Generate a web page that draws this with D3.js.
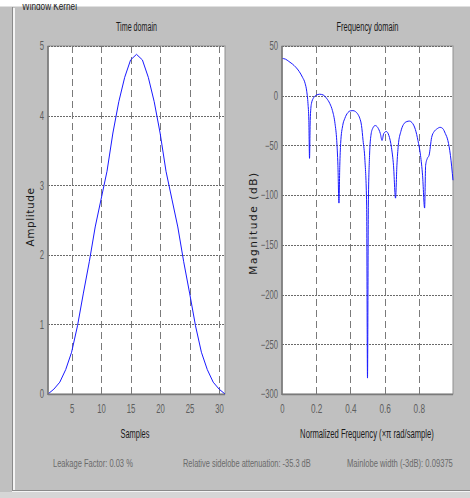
<!DOCTYPE html>
<html>
<head>
<meta charset="utf-8">
<script src="https://cdn.jsdelivr.net/npm/d3@7"></script>
<style>
  body { margin: 0; background: #fff; }
  svg text { font-family: "Liberation Sans Narrow", "Arial Narrow", "Liberation Sans", sans-serif; }
</style>
</head>
<body>
<div id="chart"></div>
<script>
// time domain: window samples 1..31
var samples = d3.range(1, 32);
var amplitude = [0.0, 0.07, 0.17, 0.35, 0.6, 0.98, 1.45, 1.9, 2.4, 2.8, 3.2, 3.75, 4.2, 4.55, 4.8, 4.88,
                 4.8, 4.55, 4.2, 3.75, 3.2, 2.8, 2.4, 1.9, 1.45, 0.98, 0.6, 0.35, 0.17, 0.07, 0.0];

// frequency domain (normalized freq, dB)
var freq = [0, 0.02, 0.04, 0.06, 0.08, 0.10, 0.12, 0.135, 0.145, 0.152, 0.157, 0.161, 0.165, 0.172, 0.185,
            0.20, 0.22, 0.24, 0.26, 0.28, 0.295, 0.31, 0.32, 0.327, 0.333, 0.338, 0.343, 0.355, 0.367, 0.385,
            0.40, 0.415, 0.43, 0.445, 0.455, 0.465, 0.474, 0.485, 0.495, 0.50, 0.505, 0.512, 0.52, 0.53, 0.545,
            0.56, 0.575, 0.585, 0.595, 0.61, 0.625, 0.64, 0.652, 0.664, 0.672, 0.68, 0.695, 0.71, 0.73, 0.745,
            0.76, 0.78, 0.795, 0.81, 0.822, 0.834, 0.84, 0.85, 0.86, 0.875, 0.89, 0.905, 0.925, 0.94, 0.955,
            0.97, 0.985, 1.0];
var magnitude = [37.5, 36.8, 34.5, 32.0, 28.8, 24.5, 18.5, 12.5, 4, -8, -25, -63, -25, -8, -2,
                 0.5, 1.5, 0.8, -2.5, -8, -15, -28, -45, -70, -108, -70, -48, -30, -23, -17,
                 -15.2, -15, -16, -19, -22.7, -30, -45, -65, -110, -284, -110, -60, -40, -33, -30,
                 -32, -38, -45, -38, -36, -40, -52, -70, -103, -70, -50, -36, -29, -26, -25.5,
                 -27, -34, -45, -60, -80, -113, -70, -63, -60, -42, -36, -33.5, -31.8, -33, -38,
                 -45, -60, -85];

var timeXTicks = [5, 10, 15, 20, 25, 30];
var timeYTicks = [0, 1, 2, 3, 4, 5];
var freqXTicks = [0, 0.2, 0.4, 0.6, 0.8];
var freqYTicks = [50, 0, -50, -100, -150, -200, -250, -300];

var W = 470, H = 498;
var svg = d3.select("#chart").append("svg").attr("width", W).attr("height", H);

// squeeze a text horizontally to a given width (narrow MATLAB look)
function squeeze(node, w, anchorX) {
  var n = node.getComputedTextLength();
  var s = Math.min(1, w / n);
  var x = anchorX || 0;
  node.setAttribute("transform", "translate(" + x + ",0) scale(" + s + ",1) translate(" + (-x) + ",0)");
}

function addText(x, y, str, opts) {
  var t = svg.append("text").attr("x", x).attr("y", y).attr("font-size", opts.size || 11)
    .attr("fill", opts.fill || "#1a1a1a").attr("text-anchor", opts.anchor || "start").text(str);
  if (opts.clip) t.attr("clip-path", opts.clip);
  squeeze(t.node(), opts.width, x);
  return t;
}

svg.append("clipPath").attr("id", "topclip").append("rect")
  .attr("x", 0).attr("y", 4).attr("width", W).attr("height", 20);

// panel background + frame
svg.append("rect").attr("x", 0).attr("y", 0).attr("width", W).attr("height", H).attr("fill", "#c0c0c0");
svg.append("rect").attr("x", 0).attr("y", 0).attr("width", W).attr("height", 6.5).attr("fill", "#fff");
svg.append("rect").attr("x", 0).attr("y", 492).attr("width", W).attr("height", 6).attr("fill", "#d6d6d6");
svg.append("line").attr("x1", 12.5).attr("x2", 12.5).attr("y1", 7).attr("y2", 490).attr("stroke", "#8a8a8a");
svg.append("line").attr("x1", 14).attr("x2", 14).attr("y1", 8).attr("y2", 490).attr("stroke", "#f4f4f4").attr("stroke-width", 2);
svg.append("line").attr("x1", 12).attr("x2", W).attr("y1", 490.5).attr("y2", 490.5).attr("stroke", "#8a8a8a");
svg.append("line").attr("x1", 12).attr("x2", W).attr("y1", 491.5).attr("y2", 491.5).attr("stroke", "#f4f4f4");
addText(22, 10, "Window Kernel", { width: 55, fill: "#222", clip: "url(#topclip)" });

function panel(cfg) {
  var x = d3.scaleLinear().domain(cfg.xDomain).range([cfg.left, cfg.right]);
  var y = d3.scaleLinear().domain(cfg.yDomain).range([394, 46]);
  var g = svg.append("g");

  g.append("rect").attr("x", cfg.left).attr("y", 46).attr("width", cfg.right - cfg.left).attr("height", 348)
    .attr("fill", "#fff").attr("stroke", "#909090");

  // grid
  g.selectAll(".hg").data(cfg.yTicks).enter().append("line")
    .attr("x1", cfg.left).attr("x2", cfg.right)
    .attr("y1", function (d) { return Math.round(y(d)) + 0.5; })
    .attr("y2", function (d) { return Math.round(y(d)) + 0.5; })
    .attr("stroke", "#6a6a6a").attr("stroke-dasharray", "2,1");
  g.selectAll(".vg").data(cfg.xTicks.filter(function (d) { return x(d) > cfg.left + 1; })).enter().append("line")
    .attr("x1", function (d) { return Math.round(x(d)) + 0.5; })
    .attr("x2", function (d) { return Math.round(x(d)) + 0.5; })
    .attr("y1", 46).attr("y2", 394)
    .attr("stroke", "#7a7a7a").attr("stroke-dasharray", "7,4");

  // data
  var line = d3.line().x(function (d) { return x(d[0]); }).y(function (d) { return y(d[1]); });
  if (cfg.curve) line.curve(cfg.curve);
  g.append("path").datum(d3.zip(cfg.xs, cfg.ys)).attr("d", line)
    .attr("fill", "none").attr("stroke", "#1a1aff").attr("stroke-width", 1);

  // axes lines
  g.append("line").attr("x1", cfg.left).attr("x2", cfg.left).attr("y1", 46).attr("y2", 395)
    .attr("stroke", "#7a7a7a").attr("stroke-width", 1.6);
  g.append("line").attr("x1", cfg.left).attr("x2", cfg.right).attr("y1", 394.5).attr("y2", 394.5)
    .attr("stroke", "#7a7a7a").attr("stroke-width", 1.6);

  // tick labels via d3 axes
  var ax = g.append("g").attr("transform", "translate(0,397)")
    .call(d3.axisBottom(x).tickValues(cfg.xTicks).tickSize(0).tickPadding(7).tickFormat(cfg.xFmt));
  var ay = g.append("g").attr("transform", "translate(" + (cfg.left - 3) + ",0)")
    .call(d3.axisLeft(y).tickValues(cfg.yTicks).tickSize(0).tickPadding(1).tickFormat(d3.format("d")));
  [ax, ay].forEach(function (a) {
    a.select(".domain").remove();
    a.selectAll("text").attr("font-size", 12).attr("fill", "#5e5e5e")
      .style("font-family", "'Liberation Sans Narrow', 'Arial Narrow', 'Liberation Sans', sans-serif")
      .each(function () {
        var s = this.textContent;
        squeeze(this, s.length * 4.3 - (s.indexOf(".") >= 0 ? 1.5 : 0), +this.getAttribute("x") || 0);
      });
  });

  var cx = (cfg.left + cfg.right) / 2;
  addText(cx, 31, cfg.title, { size: 12, anchor: "middle", width: cfg.titleLen });
  addText(cfg.xlabX, 438, cfg.xlab, { size: 12, anchor: "middle", width: cfg.xlabLen });
  svg.append("text").attr("transform", "translate(" + cfg.ylabX + "," + cfg.ylabY + ") rotate(-90)")
    .attr("text-anchor", "middle").attr("font-size", 10.5).attr("fill", "#1a1a1a")
    .style("font-family", "'DejaVu Sans', sans-serif")
    .attr("letter-spacing", cfg.ylabSpacing).text(cfg.ylab);
}

panel({
  left: 48, right: 225, xDomain: [1, 31], yDomain: [0, 5],
  xTicks: timeXTicks, yTicks: timeYTicks, xFmt: d3.format("d"),
  xs: samples, ys: amplitude,
  title: "Time domain", titleLen: 41,
  xlab: "Samples", xlabX: 135, xlabLen: 29,
  ylab: "Amplitude", ylabX: 34, ylabY: 217, ylabSpacing: 0.6
});

panel({
  left: 282, right: 453, xDomain: [0, 1], yDomain: [-300, 50],
  xTicks: freqXTicks, yTicks: freqYTicks, xFmt: function (d) { return d === 0 ? "0" : d3.format(".1f")(d); },
  xs: freq, ys: magnitude, curve: d3.curveMonotoneX,
  title: "Frequency domain", titleLen: 62,
  xlab: "Normalized Frequency  (\u00d7\u03c0 rad/sample)", xlabX: 367, xlabLen: 134,
  ylab: "Magnitude (dB)", ylabX: 257, ylabY: 223, ylabSpacing: 1.6
});

// info line
var info = [
  { t: "Leakage Factor: 0.03 %", x: 53, len: 80 },
  { t: "Relative sidelobe attenuation: -35.3 dB", x: 183, len: 128 },
  { t: "Mainlobe width (-3dB): 0.09375", x: 347, len: 106 }
];
info.forEach(function (d) {
  addText(d.x, 467, d.t, { size: 11, fill: "#6a6a6a", width: d.len });
});
</script>
</body>
</html>
